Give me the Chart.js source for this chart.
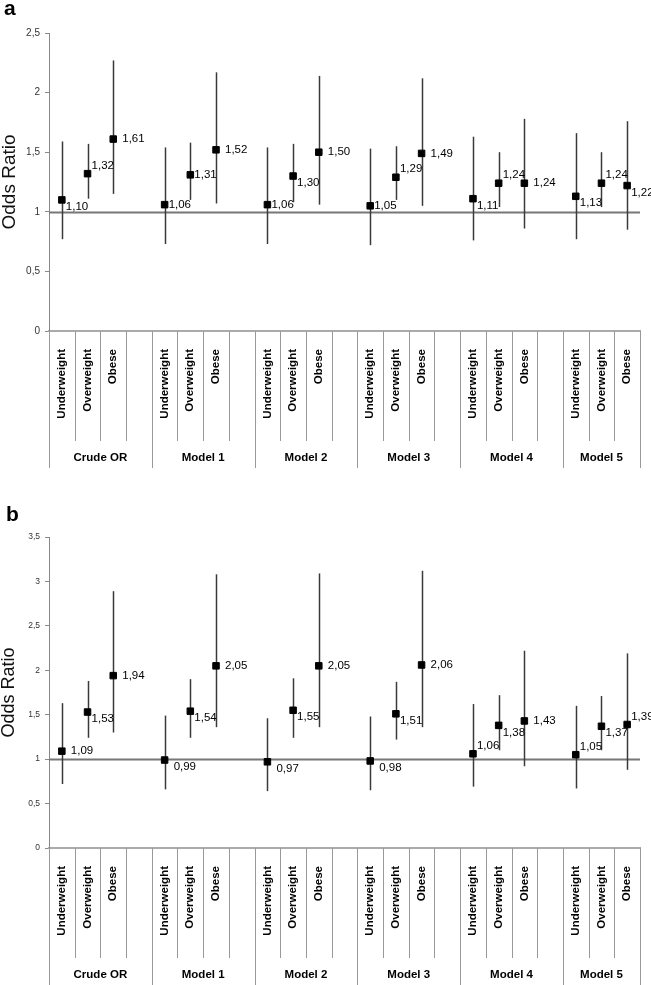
<!DOCTYPE html>
<html>
<head>
<meta charset="utf-8">
<script src="https://cdn.jsdelivr.net/npm/chart.js@4.4.1/dist/chart.umd.min.js"></script>
<style>
body{margin:0;background:#fff;width:651px;height:985px;position:relative;overflow:hidden;font-family:"Liberation Sans",Arial,sans-serif}
.box{position:absolute;left:0;width:651px}
.letter{position:absolute;font-weight:bold;font-size:21px;color:#000}
</style>
</head>
<body>
<div class="box" style="top:0;height:480px"><canvas id="grafico-a"></canvas></div>
<div class="box" style="top:480px;height:505px"><canvas id="grafico-b"></canvas></div>
<div class="letter" style="left:4px;top:-4px">a</div>
<div class="letter" style="left:6px;top:502px">b</div>
<script>
var groups = ['Crude OR', 'Model 1', 'Model 2', 'Model 3', 'Model 4', 'Model 5'];
var bmi_classes = ['Underweight', 'Overweight', 'Obese'];

// panel a
var or_a = [1.10, 1.32, 1.61, 1.06, 1.31, 1.52, 1.06, 1.30, 1.50, 1.05, 1.29, 1.49, 1.11, 1.24, 1.24, 1.13, 1.24, 1.22];
var lo_a = [0.77, 1.11, 1.15, 0.73, 1.10, 1.07, 0.73, 1.08, 1.06, 0.72, 1.10, 1.05, 0.76, 1.04, 0.86, 0.77, 1.04, 0.85];
var hi_a = [1.59, 1.57, 2.27, 1.54, 1.58, 2.17, 1.54, 1.57, 2.14, 1.53, 1.55, 2.12, 1.63, 1.50, 1.78, 1.66, 1.50, 1.76];
var y_ticks_a = [0, 0.5, 1, 1.5, 2, 2.5];

// panel b
var or_b = [1.09, 1.53, 1.94, 0.99, 1.54, 2.05, 0.97, 1.55, 2.05, 0.98, 1.51, 2.06, 1.06, 1.38, 1.43, 1.05, 1.37, 1.39];
var lo_b = [0.72, 1.24, 1.30, 0.66, 1.24, 1.36, 0.64, 1.24, 1.36, 0.65, 1.22, 1.36, 0.69, 1.10, 0.92, 0.67, 1.10, 0.88];
var hi_b = [1.63, 1.88, 2.89, 1.49, 1.90, 3.08, 1.46, 1.91, 3.09, 1.48, 1.87, 3.12, 1.62, 1.72, 2.22, 1.60, 1.71, 2.19];
var y_ticks_b = [0, 0.5, 1, 1.5, 2, 2.5, 3, 3.5];

// where each value label sits next to its marker
var place_a = ['br','ar','r', 'r0','r0','r', 'r0','br','r', 'r0','ar','r', 'br','ar','r', 'br','ar','br'];
var place_b = ['r','br','r', 'brg','br','r', 'brg','br','r', 'brg','br','r', 'ar','br','r', 'ar','br','ar'];
var offsets = {r: [9, 0], r0: [4, 0], br: [4, 7], brg: [9, 7], ar: [4, -8]};

Chart.defaults.font.family = '"Liberation Sans", Arial, sans-serif';

// 3 classes per model, one empty slot between models
var labels = [];
groups.forEach(function(g, gi){
    bmi_classes.forEach(function(c){ labels.push(c); });
    if (gi < groups.length - 1) labels.push('');
});

function spread(arr){
    var out = [], k = 0;
    labels.forEach(function(l){ out.push(l === '' ? null : arr[k++]); });
    return out;
}

function fmt(v){ return v.toFixed(2).replace('.', ','); }

function forestPlugin(or, lo, hi, place){
    var p_or = spread(or), p_lo = spread(lo), p_hi = spread(hi), p_pl = spread(place);
    return {
        id: 'forest',
        beforeDatasetsDraw: function(chart){
            var ctx = chart.ctx, a = chart.chartArea, x = chart.scales.x, y = chart.scales.y;
            ctx.save();
            var y1 = Math.round(y.getPixelForValue(1)) + 0.5;
            ctx.strokeStyle = '#777';
            ctx.lineWidth = 2;
            ctx.beginPath(); ctx.moveTo(a.left, y1); ctx.lineTo(a.right, y1); ctx.stroke();
            ctx.strokeStyle = '#3a3a3a';
            ctx.lineWidth = 1.5;
            p_lo.forEach(function(v, i){
                if (v === null) return;
                var px = Math.round(x.getPixelForValue(i)) + 0.5;
                ctx.beginPath();
                ctx.moveTo(px, y.getPixelForValue(v));
                ctx.lineTo(px, y.getPixelForValue(p_hi[i]));
                ctx.stroke();
            });
            ctx.restore();
        },
        afterDraw: function(chart){
            var ctx = chart.ctx, a = chart.chartArea, x = chart.scales.x, y = chart.scales.y;
            var w = x.getPixelForValue(1) - x.getPixelForValue(0);
            var x0 = x.getPixelForValue(0) - w / 2;
            var n = labels.length;
            ctx.save();
            // separators under the axis
            ctx.strokeStyle = '#999';
            ctx.lineWidth = 1;
            for (var k = 0; k <= n; k++){
                var isGroup = (k % 4 === 0) || k === n;
                var sx = Math.round(x0 + k * w) + 0.5;
                ctx.beginPath();
                ctx.moveTo(sx, a.bottom);
                ctx.lineTo(sx, a.bottom + (isGroup ? 137 : 110));
                ctx.stroke();
            }
            // model names
            ctx.fillStyle = '#000';
            ctx.font = 'bold 11.5px "Liberation Sans", Arial, sans-serif';
            ctx.textAlign = 'center';
            ctx.textBaseline = 'middle';
            groups.forEach(function(g, gi){
                var k1 = gi * 4, k2 = Math.min(gi * 4 + 4, n);
                ctx.fillText(g, x0 + (k1 + k2) / 2 * w, a.bottom + 127);
            });
            // value labels
            ctx.font = '11.5px "Liberation Sans", Arial, sans-serif';
            ctx.textAlign = 'left';
            p_or.forEach(function(v, i){
                if (v === null) return;
                var off = offsets[p_pl[i]];
                ctx.fillText(fmt(v), x.getPixelForValue(i) + off[0], y.getPixelForValue(v) + off[1]);
            });
            ctx.restore();
        }
    };
}

function buildChart(id, or, lo, hi, place, yTicks, yMax, top, xHeight, tickSize, titleSize){
    var ctx = document.getElementById(id).getContext('2d');
    var config = {
        type: 'line',
        data: {
            labels: labels,
            datasets: [{
                data: spread(or),
                showLine: false,
                pointStyle: 'rect',
                pointRadius: 4.6,
                pointHoverRadius: 4.6,
                backgroundColor: '#000',
                borderColor: '#000'
            }]
        },
        options: {
            responsive: true,
            maintainAspectRatio: false,
            animation: false,
            events: [],
            layout: { padding: { top: top, right: 11, left: 0, bottom: 0 } },
            plugins: { legend: { display: false }, tooltip: { enabled: false } },
            scales: {
                x: {
                    offset: true,
                    grid: { drawOnChartArea: false, drawTicks: false, color: 'transparent' },
                    border: { color: '#aaa', width: 2 },
                    ticks: {
                        autoSkip: false, minRotation: 90, maxRotation: 90, padding: 18,
                        color: '#000', font: { size: 11.5, weight: 'bold' }
                    },
                    afterFit: function(s){
                        s.height = xHeight;
                        s.paddingLeft = 0;
                        s.paddingRight = 0;
                    }
                },
                y: {
                    min: 0,
                    max: yMax,
                    afterBuildTicks: function(s){ s.ticks = yTicks.map(function(v){ return {value: v}; }); },
                    grid: { drawOnChartArea: false, tickLength: 4, color: '#888' },
                    border: { color: '#888' },
                    ticks: {
                        padding: 5, color: '#333', font: { size: tickSize },
                        callback: function(v){ return String(v).replace('.', ','); }
                    },
                    title: {
                        display: true, text: 'Odds Ratio', color: '#111',
                        font: { size: titleSize, lineHeight: 1 }, padding: 0
                    },
                    afterFit: function(s){ s.width = 49; }
                }
            }
        },
        plugins: [forestPlugin(or, lo, hi, place)]
    };
    return new Chart(ctx, config);
}

var grafico_a = buildChart('grafico-a', or_a, lo_a, hi_a, place_a, y_ticks_a, 2.5, 33, 149, 10, 19);
var grafico_b = buildChart('grafico-b', or_b, lo_b, hi_b, place_b, y_ticks_b, 3.5, 57, 137, 8.5, 18);
</script>
</body>
</html>
